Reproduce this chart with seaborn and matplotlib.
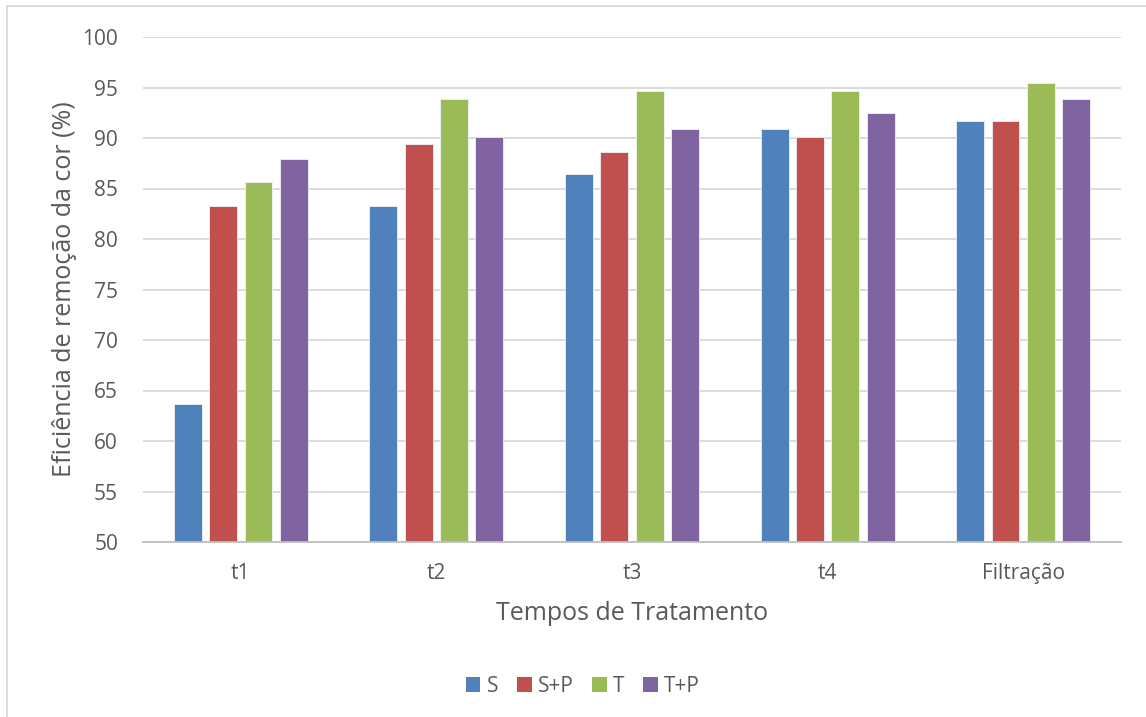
import matplotlib
matplotlib.use("Agg")
import matplotlib.pyplot as plt
from matplotlib.patches import Patch
from matplotlib.lines import Line2D
import seaborn as sns
import pandas as pd

# Colour-removal efficiency (%) per treatment time and process
categories = ["t1", "t2", "t3", "t4", "Filtração"]
series_names = ["S", "S+P", "T", "T+P"]
s_vals = [63.7, 83.3, 86.4, 90.9, 91.7]
sp_vals = [83.3, 89.4, 88.6, 90.1, 91.7]
t_vals = [85.6, 93.9, 94.7, 94.7, 95.4]
tp_vals = [87.9, 90.1, 90.9, 92.5, 93.9]
colors = ["#4F81BD", "#C0504D", "#9BBB59", "#8064A2"]
y_ticks = [50, 55, 60, 65, 70, 75, 80, 85, 90, 95, 100]

rows = []
for name, vals in zip(series_names, [s_vals, sp_vals, t_vals, tp_vals]):
    for cat, v in zip(categories, vals):
        rows.append({"Tempo": cat, "Série": name, "Eficiência": v})
df = pd.DataFrame(rows)

sns.set_theme(style="white")
plt.rcParams["font.family"] = ["Open Sans", "DejaVu Sans"]
text_color = "#595959"

fig = plt.figure(figsize=(11.46, 7.17), dpi=100)
ax = fig.add_axes([143 / 1146, 1 - 542 / 717, (1121 - 143) / 1146, (542 - 37) / 717])

sns.barplot(data=df, x="Tempo", y="Eficiência", hue="Série",
            order=categories, hue_order=series_names, palette=colors,
            width=0.723, gap=0.21, edgecolor="#EEF2F8", linewidth=0.6,
            saturation=1, legend=False, ax=ax)

ax.set_ylim(50, 100)
ax.set_xlim(-0.5, len(categories) - 0.5)
ax.set_yticks(y_ticks)
ax.yaxis.grid(True, color="#D9D9D9", linewidth=1.3)
ax.set_axisbelow(True)
for side in ["top", "right", "left"]:
    ax.spines[side].set_visible(False)
ax.spines["bottom"].set_color("#BFBFBF")
ax.spines["bottom"].set_linewidth(1.3)

ax.tick_params(axis="y", length=0, pad=18, labelsize=15, labelcolor=text_color)
ax.tick_params(axis="x", which="major", length=0, pad=15, labelsize=15, labelcolor=text_color)
ax.set_xticks([i + 0.5 for i in range(-1, len(categories))], minor=True)
ax.tick_params(axis="x", which="minor", length=7, width=1.3, color="#BFBFBF", direction="out")

ax.set_xlabel("Tempos de Tratamento", fontsize=18, color=text_color, labelpad=12)
ax.set_ylabel("Eficiência de remoção da cor (%)", fontsize=18, color=text_color, labelpad=4)

handles = [Patch(facecolor=c, edgecolor="none") for c in colors]
fig.legend(handles, series_names, loc="center", bbox_to_anchor=(583 / 1146, 1 - 686 / 717),
           ncol=4, frameon=False, fontsize=15, labelcolor=text_color,
           handlelength=0.7, handleheight=0.7, handletextpad=0.3, columnspacing=0.9)

# Chart area border (left and top edges)
fig.add_artist(Line2D([7 / 1146, 7 / 1146], [0, 1 - 6 / 717], transform=fig.transFigure,
                      color="#D9D9D9", linewidth=1.3))
fig.add_artist(Line2D([7 / 1146, 1], [1 - 6 / 717, 1 - 6 / 717], transform=fig.transFigure,
                      color="#D9D9D9", linewidth=1.3))

fig.savefig("out.png", dpi=100, facecolor="white")
